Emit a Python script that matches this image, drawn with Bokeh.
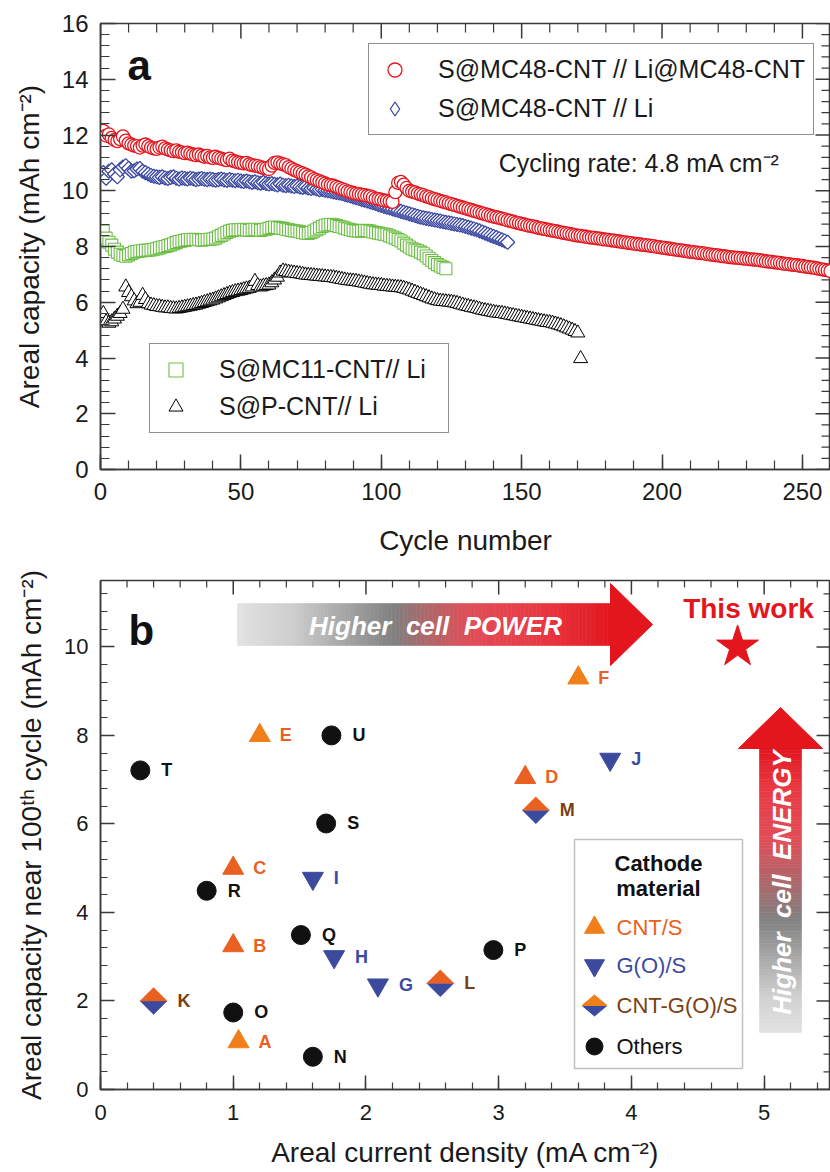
import numpy as np
from bokeh.plotting import figure
from bokeh.layouts import column
from bokeh.models import (Range1d, SingleIntervalTicker, Legend, LegendItem,
                          ColumnDataSource, BoxAnnotation)
from bokeh.core.properties import value
from bokeh.embed import file_html
from bokeh.resources import INLINE

FONT = "Liberation Sans"
AX = "#3a3a3a"

# ---------------- Panel a data (areal capacity vs cycle) ----------------
red_cap = [
    12.15, 11.98, 12.02, 11.9, 11.82, 11.78, 11.85, 11.95, 11.8, 11.7,
    11.66, 11.62, 11.6, 11.55, 11.62, 11.66, 11.6, 11.55, 11.52, 11.5,
    11.55, 11.58, 11.52, 11.48, 11.45, 11.42, 11.45, 11.4, 11.38, 11.35,
    11.37, 11.33, 11.3, 11.28, 11.3, 11.26, 11.22, 11.25, 11.2, 11.18,
    11.22, 11.18, 11.15, 11.12, 11.1, 11.15, 11.08, 11.05, 11.02, 11.0,
    10.98, 11.0, 10.95, 10.92, 10.9, 10.88, 10.85, 10.82, 10.8, 10.78,
    10.9, 11.0, 11.02, 10.98, 10.95, 10.92, 10.85, 10.8, 10.75, 10.7,
    10.66, 10.62, 10.58, 10.52, 10.48, 10.42, 10.38, 10.34, 10.3, 10.26,
    10.22, 10.2, 10.18, 10.14, 10.1, 10.06, 10.02, 9.98, 9.95, 9.92,
    9.9, 9.88, 9.86, 9.84, 9.82, 9.8, 9.76, 9.72, 9.7, 9.68,
    9.65, 9.64, 9.62, 9.6, 9.95, 10.28, 10.32, 10.22, 10.1, 10.0,
    9.97, 9.94, 9.9, 9.87, 9.84, 9.8, 9.77, 9.73, 9.7, 9.67,
    9.64, 9.61, 9.58, 9.55, 9.52, 9.49, 9.46, 9.43, 9.4, 9.37,
    9.34, 9.31, 9.28, 9.25, 9.22, 9.19, 9.16, 9.13, 9.1, 9.07,
    9.05, 9.03, 9.0, 8.97, 8.94, 8.92, 8.89, 8.86, 8.84, 8.81,
    8.79, 8.76, 8.74, 8.72, 8.7, 8.67, 8.65, 8.63, 8.61, 8.59,
    8.57, 8.55, 8.53, 8.51, 8.49, 8.47, 8.45, 8.43, 8.41, 8.39,
    8.38, 8.36, 8.35, 8.33, 8.32, 8.31, 8.29, 8.28, 8.26, 8.25,
    8.24, 8.22, 8.21, 8.19, 8.18, 8.16, 8.15, 8.13, 8.12, 8.1,
    8.09, 8.08, 8.06, 8.05, 8.04, 8.02, 8.01, 7.99, 7.98, 7.96,
    7.95, 7.93, 7.92, 7.9, 7.89, 7.87, 7.86, 7.84, 7.83, 7.81,
    7.8, 7.79, 7.77, 7.76, 7.75, 7.73, 7.72, 7.7, 7.69, 7.68,
    7.66, 7.65, 7.64, 7.62, 7.61, 7.6, 7.59, 7.58, 7.57, 7.56,
    7.55, 7.54, 7.53, 7.52, 7.5, 7.49, 7.47, 7.46, 7.45, 7.43,
    7.42, 7.41, 7.39, 7.38, 7.37, 7.35, 7.34, 7.33, 7.31, 7.3,
    7.28, 7.27, 7.25, 7.24, 7.22, 7.2, 7.18, 7.16, 7.14, 7.12,
]
blue_cap = [
    10.65, 10.45, 10.7, 10.75, 10.6, 10.5, 10.75, 10.85, 10.9, 10.8,
    10.7, 10.72, 10.78, 10.8, 10.7, 10.65, 10.6, 10.55, 10.52, 10.5,
    10.48, 10.5, 10.46, 10.44, 10.48, 10.5, 10.45, 10.42, 10.46, 10.44,
    10.42, 10.45, 10.43, 10.4, 10.42, 10.44, 10.41, 10.4, 10.42, 10.4,
    10.38, 10.4, 10.42, 10.39, 10.37, 10.4, 10.38, 10.36, 10.38, 10.35,
    10.33, 10.35, 10.32, 10.3, 10.32, 10.29, 10.27, 10.3, 10.26, 10.24,
    10.26, 10.23, 10.21, 10.24, 10.2, 10.18, 10.2, 10.17, 10.15, 10.17,
    10.14, 10.12, 10.14, 10.1, 10.08, 10.1, 10.06, 10.04, 10.05, 10.02,
    10.0, 9.98, 9.96, 9.94, 9.92, 9.9, 9.87, 9.84, 9.81, 9.78,
    9.75, 9.72, 9.69, 9.66, 9.63, 9.6, 9.57, 9.54, 9.5, 9.47,
    9.44, 9.41, 9.38, 9.35, 9.32, 9.29, 9.26, 9.23, 9.2, 9.17,
    9.14, 9.11, 9.08, 9.05, 9.03, 9.01, 8.99, 8.97, 8.95, 8.93,
    8.91, 8.89, 8.87, 8.85, 8.83, 8.81, 8.79, 8.77, 8.75, 8.72,
    8.69, 8.66, 8.63, 8.6, 8.56, 8.52, 8.48, 8.44, 8.4, 8.36,
    8.32, 8.28, 8.24, 8.2, 8.15,
]
green_cap = [
    8.55, 8.3, 8.15, 8.05, 7.9, 7.8, 7.72, 7.68, 7.65, 7.7,
    7.75, 7.8, 7.82, 7.84, 7.85, 7.86, 7.87, 7.88, 7.9, 7.92,
    7.95, 7.98, 8.0, 8.03, 8.06, 8.1, 8.14, 8.18, 8.2, 8.22,
    8.24, 8.25, 8.26, 8.25, 8.24, 8.23, 8.24, 8.25, 8.26, 8.27,
    8.3, 8.35, 8.4, 8.45, 8.5, 8.55, 8.58, 8.6, 8.6, 8.6,
    8.62, 8.6, 8.58, 8.6, 8.62, 8.6, 8.58, 8.6, 8.62, 8.65,
    8.68, 8.7, 8.68, 8.66, 8.65, 8.62, 8.6, 8.58, 8.56, 8.55,
    8.53, 8.5, 8.48, 8.47, 8.5, 8.55, 8.6, 8.66, 8.72, 8.76,
    8.78, 8.8, 8.78, 8.75, 8.72, 8.7, 8.66, 8.63, 8.6, 8.58,
    8.56, 8.55, 8.56, 8.58, 8.57, 8.55, 8.52, 8.5, 8.48, 8.46,
    8.44, 8.42, 8.38, 8.34, 8.3, 8.25, 8.2, 8.12, 8.05, 7.98,
    7.92, 7.88, 7.85, 7.8, 7.74, 7.66, 7.58, 7.5, 7.42, 7.35,
    7.3, 7.25, 7.2,
]
black_cap = [
    5.6, 5.3, 5.25, 5.3, 5.4, 5.5, 5.6, 5.75, 6.55, 6.35,
    6.2, 6.05, 5.95, 6.0, 6.25, 6.1, 5.95, 5.9, 5.88, 5.85,
    5.84, 5.82, 5.8, 5.8, 5.78, 5.77, 5.76, 5.78, 5.8, 5.82,
    5.84, 5.86, 5.88, 5.9, 5.93, 5.96, 5.99, 6.02, 6.05, 6.08,
    6.12, 6.16, 6.2, 6.24, 6.28, 6.32, 6.35, 6.38, 6.4, 6.42,
    6.45, 6.48, 6.5, 6.55, 6.75, 6.6, 6.55, 6.58, 6.6, 6.62,
    6.7, 6.8, 6.9, 7.05, 7.12, 7.1, 7.08, 7.06, 7.05, 7.03,
    7.02, 7.0, 6.98, 6.97, 6.96, 6.95, 6.94, 6.93, 6.92, 6.91,
    6.9, 6.89, 6.88, 6.86, 6.84, 6.82, 6.8, 6.78, 6.77, 6.76,
    6.75, 6.73, 6.71, 6.69, 6.67, 6.65, 6.63, 6.62, 6.61, 6.6,
    6.58, 6.57, 6.56, 6.55, 6.54, 6.53, 6.52, 6.5, 6.47, 6.44,
    6.4, 6.36, 6.32, 6.28, 6.24, 6.2, 6.16, 6.12, 6.09, 6.06,
    6.04, 6.03, 6.02, 6.01, 6.0, 5.98, 5.96, 5.93, 5.9, 5.87,
    5.85, 5.82, 5.8, 5.78, 5.75, 5.72, 5.7, 5.68, 5.66, 5.64,
    5.62, 5.61, 5.6, 5.58, 5.56, 5.54, 5.52, 5.5, 5.48, 5.46,
    5.44, 5.42, 5.4, 5.38, 5.36, 5.34, 5.32, 5.3, 5.28, 5.27,
    5.25, 5.22, 5.19, 5.16, 5.12, 5.08, 5.04, 5.0, 4.95, 4.9,
    3.98,
]
red_cycle = list(range(1, len(red_cap) + 1))
blue_cycle = list(range(1, len(blue_cap) + 1))
green_cycle = list(range(1, len(green_cap) + 1))
black_cycle = list(range(1, len(black_cap) + 1))

series_names = ["S@MC48-CNT // Li@MC48-CNT", "S@MC48-CNT // Li",
                "S@MC11-CNT// Li", "S@P-CNT// Li"]

# ---------------- Panel b data (literature comparison) ----------------
b_labels = ["A", "B", "C", "D", "E", "F", "G", "H", "I", "J", "K",
            "L", "M", "N", "O", "P", "Q", "R", "S", "T", "U"]
b_current = [1.04, 1.0, 1.0, 3.2, 1.2, 3.6, 2.09, 1.76, 1.6, 3.84, 0.4,
             2.56, 3.28, 1.6, 1.0, 2.96, 1.51, 0.8, 1.7, 0.3, 1.74]
b_capacity = [1.08, 3.25, 5.0, 7.05, 8.0, 9.3, 2.36, 3.0, 4.77, 7.46, 2.0,
              2.4, 6.31, 0.74, 1.74, 3.15, 3.49, 4.49, 6.01, 7.21, 8.0]
b_material = ["CNT/S"] * 6 + ["G(O)/S"] * 4 + ["CNT-G(O)/S"] * 3 + ["Others"] * 8
this_work_current = [4.8]
this_work_capacity = [10.0]
material_names = ["CNT/S", "G(O)/S", "CNT-G(O)/S", "Others"]

# ---------------- styles ----------------
C_RED = "#E3161E"
C_BLUE = "#3B48A0"
C_GREEN = "#6CBD45"
C_ORANGE = "#F07F1A"
C_ORANGE2 = "#EA6020"
C_NAVY = "#3C4A9E"
C_BROWN = "#7B3F12"
tri_fill = {"A": C_ORANGE, "B": C_ORANGE2, "C": C_ORANGE2, "D": C_ORANGE2,
            "E": C_ORANGE, "F": C_ORANGE}


def style_axis(ax, major_in, minor_in, fs, lfs, standoff, lstandoff):
    ax.axis_line_color = AX
    ax.axis_line_width = 1.5
    ax.major_tick_in = major_in
    ax.major_tick_out = 0
    ax.minor_tick_in = minor_in
    ax.minor_tick_out = 0
    ax.major_tick_line_color = AX
    ax.minor_tick_line_color = AX
    ax.major_tick_line_width = 1.5
    ax.minor_tick_line_width = 1.2
    ax.major_label_text_font = FONT
    ax.major_label_text_color = "#1a1a1a"
    ax.major_label_text_font_size = f"{fs}px"
    ax.major_label_standoff = standoff
    ax.axis_label_text_font = FONT
    ax.axis_label_text_font_style = "normal"
    ax.axis_label_text_color = "#1a1a1a"
    ax.axis_label_text_font_size = f"{lfs}px"
    ax.axis_label_standoff = lstandoff


def mirror_ticks(p, xmajor, xminor, ymajor, yminor, ytop, xright, maj, mino):
    # tick marks on the top and right frame edges (no labels)
    p.ray(x=xmajor, y=[ytop] * len(xmajor), length=maj, length_units="screen",
          angle=-np.pi / 2, line_color=AX, line_width=1.5)
    p.ray(x=xminor, y=[ytop] * len(xminor), length=mino, length_units="screen",
          angle=-np.pi / 2, line_color=AX, line_width=1.2)
    p.ray(x=[xright] * len(ymajor), y=ymajor, length=maj, length_units="screen",
          angle=np.pi, line_color=AX, line_width=1.5)
    p.ray(x=[xright] * len(yminor), y=yminor, length=mino, length_units="screen",
          angle=np.pi, line_color=AX, line_width=1.2)


def minors(start, stop, step, major_step):
    vals = np.round(np.arange(start, stop + 1e-9, step), 6)
    return [float(v) for v in vals if abs(v / major_step - round(v / major_step)) > 1e-6]


# ======================= Panel a =======================
H1 = 566
p1 = figure(width=830, height=H1, x_range=Range1d(0, 260), y_range=Range1d(0, 16),
            output_backend="svg", toolbar_location=None,
            min_border_left=100, min_border_right=0, min_border_top=23,
            min_border_bottom=H1 - 469)
p1.xgrid.visible = False
p1.ygrid.visible = False
p1.outline_line_color = AX
p1.outline_line_width = 1.5

p1.xaxis[0].ticker = SingleIntervalTicker(interval=50, num_minor_ticks=5)
p1.yaxis[0].ticker = SingleIntervalTicker(interval=2, num_minor_ticks=5)
p1.xaxis[0].axis_label = "Cycle number"
p1.yaxis[0].axis_label = "Areal capacity (mAh cm\u207b\u00b2)"
style_axis(p1.xaxis[0], 15, 9, 24, 28, 13, 22)
style_axis(p1.yaxis[0], 15, 9, 24, 28, 12, 14)
mirror_ticks(p1, [float(v) for v in np.arange(0, 261, 50)], minors(0, 260, 10, 50),
             [float(v) for v in np.arange(0, 16.1, 2)], minors(0, 16, 0.4, 2),
             16, 260, 15, 9)

r_black = p1.scatter(black_cycle, black_cap, marker="triangle", size=14,
                     line_color="black", fill_color="white", line_width=1)
r_green = p1.scatter(green_cycle, green_cap, marker="square", size=12,
                     line_color=C_GREEN, fill_color="white", line_width=1.1)
# diamond-shaped key glyph for the blue series (sits under the rotated squares)
r_blue_key = p1.scatter(blue_cycle, blue_cap, marker="diamond", size=12,
                        line_color=C_BLUE, fill_color="white", line_width=1.3)
r_blue = p1.scatter(blue_cycle, blue_cap, marker="square", size=10, angle=np.pi / 4,
                    line_color=C_BLUE, fill_color="white", line_width=1.3)
r_red = p1.scatter(red_cycle, red_cap, marker="circle", size=13,
                   line_color=C_RED, fill_color="white", line_width=1.3)


def make_legend(items, loc, label_width, spacing):
    return Legend(items=items, location=loc, glyph_width=35, glyph_height=35,
                  label_height=35, label_width=label_width, label_standoff=26,
                  padding=8, spacing=spacing, margin=0,
                  border_line_color="#222", border_line_width=1.5,
                  background_fill_color="white", background_fill_alpha=1,
                  label_text_font=FONT, label_text_font_size="25px",
                  label_text_color="#1a1a1a")


leg_top = make_legend([LegendItem(label=series_names[0], renderers=[r_red]),
                       LegendItem(label=series_names[1], renderers=[r_blue_key])],
                      (268, 334), 366, 4)
leg_bot = make_legend([LegendItem(label=series_names[2], renderers=[r_green]),
                       LegendItem(label=series_names[3], renderers=[r_black])],
                      (49, 36), 221, 2)
p1.add_layout(leg_top)
p1.add_layout(leg_bot)

p1.text(x=[9.6], y=[14.48], text=["a"], text_font=value(FONT), text_font_size="42px",
        text_font_style="bold", text_baseline="alphabetic", text_align="left",
        text_color="#111111")
p1.text(x=[141.8], y=[11.0], text=["Cycling rate: 4.8 mA cm\u207b\u00b2"],
        text_font=value(FONT), text_font_size="25px", text_baseline="middle",
        text_align="left", text_color="#1a1a1a")

# ======================= Panel b =======================
H2 = 1172 - H1
XMAX, YMAX = 5.5, 11.5
p2 = figure(width=830, height=H2, x_range=Range1d(0, XMAX), y_range=Range1d(0, YMAX),
            output_backend="svg", toolbar_location=None,
            min_border_left=100, min_border_right=0, min_border_top=580 - H1,
            min_border_bottom=1172 - 1089)
p2.xgrid.visible = False
p2.ygrid.visible = False
p2.outline_line_color = AX
p2.outline_line_width = 1.5
p2.xaxis[0].ticker = SingleIntervalTicker(interval=1, num_minor_ticks=5)
p2.yaxis[0].ticker = SingleIntervalTicker(interval=2, num_minor_ticks=5)
p2.xaxis[0].axis_label = "Areal current density (mA cm\u207b\u00b2)"
p2.yaxis[0].axis_label = "Areal capacity near 100\u1d57\u02b0 cycle (mAh cm\u207b\u00b2)"
style_axis(p2.xaxis[0], 14, 7, 22, 28, 15, 14)
style_axis(p2.yaxis[0], 14, 7, 22, 28, 12, 14)
mirror_ticks(p2, [float(v) for v in np.arange(0, 5.6, 1)], minors(0, 5.4, 0.2, 1),
             [float(v) for v in np.arange(0, 11.1, 2)], minors(0, 11.2, 0.4, 2),
             YMAX, XMAX, 14, 7)

# pixel scale of the frame (used only for decoration geometry)
FW, FH = 730.0, 509.0
PXX, PXY = FW / XMAX, FH / YMAX


def bx(px):
    return (px - 100) / PXX


def by(py):
    return (1089 - py) / PXY


# --- gradient arrows (decoration) ---
h_stops = [(0.0, (226, 226, 226)), (0.15, (205, 205, 205)), (0.42, (128, 128, 128)),
           (0.50, (170, 105, 108)), (0.62, (225, 78, 88)), (0.80, (232, 58, 68)),
           (1.0, (226, 22, 30))]
v_stops = [(0.0, (226, 226, 226)), (0.12, (210, 210, 210)), (0.40, (128, 128, 128)),
           (0.52, (170, 105, 108)), (0.68, (225, 78, 88)), (0.85, (232, 58, 68)),
           (1.0, (226, 22, 30))]


def grad(stops, n):
    pos = [s[0] for s in stops]
    cols = []
    for t in (np.arange(n) + 0.5) / n:
        rgb = [int(round(np.interp(t, pos, [s[1][k] for s in stops]))) for k in range(3)]
        cols.append("#%02x%02x%02x" % tuple(rgb))
    return cols


N = 90
hx0, hx1, hyb, hyt = bx(237), bx(611), by(645), by(603)
edges = np.linspace(hx0, hx1, N + 1)
hc = grad(h_stops, N)
p2.quad(left=edges[:-1], right=edges[1:], bottom=[hyb] * N, top=[hyt] * N,
        fill_color=hc, line_color=hc, line_width=0.6)
p2.patch(x=[bx(610), bx(652), bx(610)], y=[by(583), by(624), by(665)],
         fill_color="#E3161E", line_color="#E3161E")
vx0, vx1, vyb, vyt = bx(759), bx(801), by(1032), by(747)
vedges = np.linspace(vyb, vyt, N + 1)
vc = grad(v_stops, N)
p2.quad(left=[vx0] * N, right=[vx1] * N, bottom=vedges[:-1], top=vedges[1:],
        fill_color=vc, line_color=vc, line_width=0.6)
p2.patch(x=[bx(738), bx(780), bx(822)], y=[by(748), by(707), by(748)],
         fill_color="#E3161E", line_color="#E3161E")
p2.text(x=[bx(435)], y=[by(625)], text=["Higher\u00a0 cell\u00a0 POWER"], text_font=value(FONT),
        text_font_size="26px", text_font_style="bold italic", text_color="white",
        text_align="center", text_baseline="middle")
p2.text(x=[bx(781)], y=[by(882)], text=["Higher\u00a0 cell\u00a0 ENERGY"], text_font=value(FONT),
        text_font_size="26px", text_font_style="bold italic", text_color="white",
        text_align="center", text_baseline="middle", angle=np.pi / 2)

# --- data points ---
idx = {m: [i for i, c in enumerate(b_material) if c == m] for m in material_names}


def sub(lst, m):
    return [lst[i] for i in idx[m]]


tri_src = ColumnDataSource(dict(x=sub(b_current, "CNT/S"), y=sub(b_capacity, "CNT/S"),
                                lab=sub(b_labels, "CNT/S"),
                                col=[tri_fill[l] for l in sub(b_labels, "CNT/S")]))
p2.scatter("x", "y", source=tri_src, marker="triangle", size=21,
           fill_color="col", line_color="col")
p2.text("x", "y", text="lab", source=tri_src, x_offset=20, text_baseline="middle",
        text_font=value(FONT), text_font_size="18px", text_font_style="bold",
        text_color=C_ORANGE2)

go_src = ColumnDataSource(dict(x=sub(b_current, "G(O)/S"), y=sub(b_capacity, "G(O)/S"),
                               lab=sub(b_labels, "G(O)/S")))
p2.scatter("x", "y", source=go_src, marker="inverted_triangle", size=21,
           fill_color=C_NAVY, line_color=C_NAVY)
p2.text("x", "y", text="lab", source=go_src, x_offset=21, text_baseline="middle",
        text_font=value(FONT), text_font_size="18px", text_font_style="bold",
        text_color=C_NAVY)

dx, dy = sub(b_current, "CNT-G(O)/S"), sub(b_capacity, "CNT-G(O)/S")
hw, hh = 13.5 / PXX, 13.5 / PXY
p2.patches(xs=[[x - hw, x, x + hw] for x in dx], ys=[[y, y - hh, y] for y in dy],
           fill_color=C_NAVY, line_color=C_NAVY, line_width=0.5)
p2.patches(xs=[[x - hw, x, x + hw] for x in dx], ys=[[y, y + hh, y] for y in dy],
           fill_color=C_ORANGE2, line_color=C_ORANGE2, line_width=0.5)
p2.text(dx, dy, text=sub(b_labels, "CNT-G(O)/S"), x_offset=24, text_baseline="middle",
        text_font=value(FONT), text_font_size="18px", text_font_style="bold",
        text_color=C_BROWN)

ot_src = ColumnDataSource(dict(x=sub(b_current, "Others"), y=sub(b_capacity, "Others"),
                               lab=sub(b_labels, "Others")))
p2.scatter("x", "y", source=ot_src, marker="circle", size=19,
           fill_color="#111111", line_color="#111111")
p2.text("x", "y", text="lab", source=ot_src, x_offset=21, text_baseline="middle",
        text_font=value(FONT), text_font_size="18px", text_font_style="bold",
        text_color="#111111")

p2.scatter(this_work_current, this_work_capacity, marker="star", size=44,
           fill_color="#E3161E", line_color="#E3161E")
p2.text(x=[bx(748)], y=[by(608)], text=["This work"], text_font=value(FONT),
        text_font_size="28px", text_font_style="bold", text_color="#E3161E",
        text_align="center", text_baseline="middle")
p2.text(x=[bx(128)], y=[by(630)], text=["b"], text_font=value(FONT), text_font_size="42px",
        text_font_style="bold", text_baseline="alphabetic", text_align="left",
        text_color="#111111")

# --- legend for panel b (drawn as a boxed key) ---
p2.add_layout(BoxAnnotation(left=bx(574), right=bx(742), top=by(839), bottom=by(1068),
                            fill_color=None, line_color="#333333", line_width=1.5))
p2.text(x=[bx(658)] * 2, y=[by(863), by(888)], text=["Cathode", "material"],
        text_font=value(FONT), text_font_size="22px", text_font_style="bold",
        text_color="#111111", text_align="center", text_baseline="middle")
row_y = [by(927), by(965), by(1005), by(1046)]
kx = bx(594)
p2.scatter([kx], [row_y[0]], marker="triangle", size=20, fill_color=C_ORANGE, line_color=C_ORANGE)
p2.scatter([kx], [row_y[1]], marker="inverted_triangle", size=20, fill_color=C_NAVY, line_color=C_NAVY)
khw, khh = 12.5 / PXX, 10.5 / PXY
p2.patch(x=[kx - khw, kx, kx + khw], y=[row_y[2], row_y[2] - khh, row_y[2]],
         fill_color=C_NAVY, line_color=C_NAVY)
p2.patch(x=[kx - khw, kx, kx + khw], y=[row_y[2], row_y[2] + khh, row_y[2]],
         fill_color=C_ORANGE, line_color=C_ORANGE)
p2.scatter([kx], [row_y[3]], marker="circle", size=17, fill_color="#111111", line_color="#111111")
p2.text(x=[bx(616)] * 4, y=row_y, text=material_names,
        text_color=[C_ORANGE2, C_NAVY, C_BROWN, "#111111"],
        text_font=value(FONT), text_font_size="22px", text_baseline="middle", text_align="left")

layout = column(p1, p2, spacing=0)
open("out.html", "w").write(file_html(layout, INLINE))
